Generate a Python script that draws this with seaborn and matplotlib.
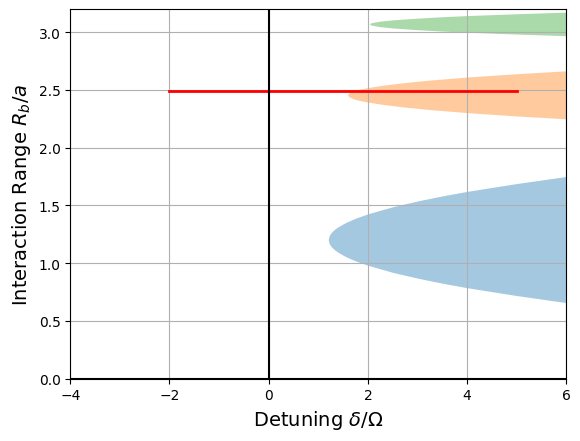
import matplotlib
matplotlib.use("Agg")
import matplotlib.pyplot as plt
import seaborn as sns
import pandas as pd

# boundaries of the three lobes (x = detuning, y = R_b/a)
blue_x = [1.20, 1.22, 1.26, 1.32, 1.40, 1.55, 1.75, 2.0, 2.5, 3.0, 3.5, 4.0, 5.0, 6.0]
blue_upper = [1.205, 1.24, 1.266, 1.291, 1.316, 1.352, 1.39, 1.428, 1.489, 1.539, 1.583, 1.622, 1.69, 1.751]
blue_lower = [1.205, 1.17, 1.144, 1.119, 1.094, 1.058, 1.02, 0.982, 0.921, 0.871, 0.827, 0.788, 0.72, 0.659]

orange_x = [1.59, 1.61, 1.65, 1.72, 1.82, 2.0, 2.3, 2.7, 3.2, 4.0, 5.0, 6.0]
orange_upper = [2.458, 2.472, 2.482, 2.494, 2.506, 2.521, 2.541, 2.562, 2.584, 2.612, 2.641, 2.666]
orange_lower = [2.458, 2.444, 2.434, 2.422, 2.41, 2.395, 2.375, 2.354, 2.332, 2.304, 2.275, 2.25]

green_x = [2.03, 2.06, 2.12, 2.25, 2.5, 3.0, 3.5, 4.0, 5.0, 6.0]
green_upper = [3.072, 3.081, 3.087, 3.096, 3.107, 3.122, 3.134, 3.144, 3.16, 3.174]
green_lower = [3.072, 3.063, 3.057, 3.048, 3.037, 3.022, 3.01, 3.0, 2.984, 2.97]

# red detuning sweep
sweep_x = [-2, 5]
sweep_y = [2.49, 2.49]

colors = sns.color_palette("tab10")

fig, ax = plt.subplots(figsize=(6.4, 4.8), dpi=100)

for xs, lo, hi, c in [(blue_x, blue_lower, blue_upper, colors[0]),
                      (orange_x, orange_lower, orange_upper, colors[1]),
                      (green_x, green_lower, green_upper, colors[2])]:
    ax.fill_between(xs, lo, hi, color=c, alpha=0.4, linewidth=0)

sweep = pd.DataFrame({'x': sweep_x, 'y': sweep_y})
sns.lineplot(data=sweep, x='x', y='y', color='red', linewidth=2, ax=ax)

ax.axvline(0, color='black', linewidth=1.5)
ax.axhline(0, color='black', linewidth=1.5)

ax.set_xlim(-4, 6)
ax.set_ylim(0, 3.2)
ax.grid(True)
ax.set_xlabel(r'Detuning $\delta/\Omega$', fontsize=14)
ax.set_ylabel(r'Interaction Range $R_b/a$', fontsize=14)

plt.savefig("out.png", dpi=100, bbox_inches='tight')
